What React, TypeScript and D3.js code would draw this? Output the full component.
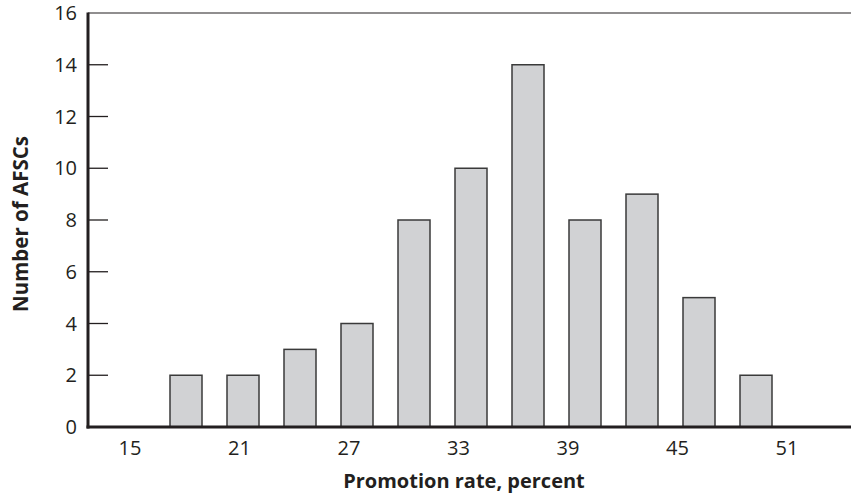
import React from "react";
import * as d3 from "d3";

const rates = [18, 21, 24, 27, 30, 33, 36, 39, 42, 45, 48];
const counts = [2, 2, 3, 4, 8, 10, 14, 8, 9, 5, 2];
const xTickLabels = [15, 21, 27, 33, 39, 45, 51];
const yTicks = [0, 2, 4, 6, 8, 10, 12, 14, 16];

const W = 851;
const H = 494;
const left = 88;
const right = 851;
const top = 13;
const bottom = 427;

export default function App() {
  const y = d3.scaleLinear().domain([0, 16]).range([bottom, top]);
  const xBar = d3.scaleLinear().domain([18, 48]).range([186, 756]);
  const xLab = d3.scaleLinear().domain([15, 51]).range([130, 787]);
  const barW = 32;
  const font = "'Open Sans', 'Noto Sans', sans-serif";

  return (
    <svg width={W} height={H} style={{ position: "absolute", left: 0, top: 0 }} fontFamily={font}>
      <rect width={W} height={H} fill="#fff" />
      <line x1={left} x2={right} y1={top} y2={top} stroke="#231f20" strokeWidth={1.2} />
      {rates.map((r, i) => (
        <rect
          key={r}
          x={xBar(r) - barW / 2}
          y={y(counts[i])}
          width={barW}
          height={bottom - y(counts[i])}
          fill="#d1d2d4"
          stroke="#3a3a3a"
          strokeWidth={1.5}
        />
      ))}
      {yTicks.map((t) => (
        <g key={t}>
          {t > 0 && t < 16 && (
            <line x1={left} x2={left + 20} y1={y(t)} y2={y(t)} stroke="#231f20" strokeWidth={1.3} />
          )}
          <text x={77} y={y(t)} dy="0.36em" textAnchor="end" fontSize={20} fill="#231f20">
            {t}
          </text>
        </g>
      ))}
      <line x1={left} x2={left} y1={top - 0.5} y2={bottom + 1.5} stroke="#231f20" strokeWidth={3} />
      <line x1={left - 1.5} x2={right} y1={bottom} y2={bottom} stroke="#231f20" strokeWidth={3} />
      {xTickLabels.map((t) => (
        <text key={t} x={xLab(t)} y={455} textAnchor="middle" fontSize={20} fill="#231f20">
          {t}
        </text>
      ))}
      <text x={464} y={488} textAnchor="middle" fontSize={20} fontWeight="bold" fill="#231f20">
        Promotion rate, percent
      </text>
      <text
        transform={`translate(28, 224) rotate(-90)`}
        textAnchor="middle"
        fontSize={20.5}
        fontWeight="bold"
        fill="#231f20"
      >
        Number of AFSCs
      </text>
    </svg>
  );
}
